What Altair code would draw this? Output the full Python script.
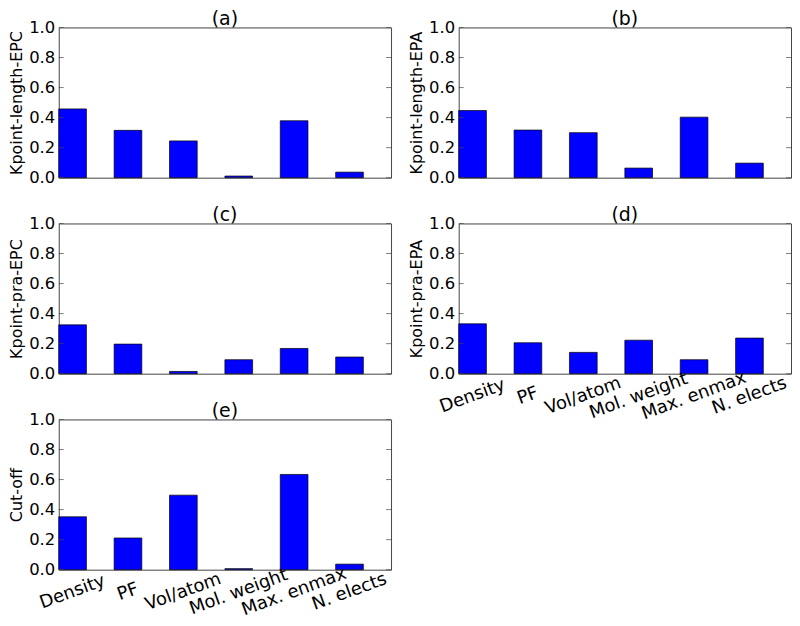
import altair as alt
import pandas as pd

categories = ["Density", "PF", "Vol/atom", "Mol. weight", "Max. enmax", "N. elects"]
vals_a = [0.458, 0.315, 0.245, 0.011, 0.379, 0.037]
vals_b = [0.447, 0.317, 0.300, 0.064, 0.403, 0.097]
vals_c = [0.325, 0.197, 0.015, 0.093, 0.168, 0.111]
vals_d = [0.332, 0.206, 0.142, 0.223, 0.093, 0.237]
vals_e = [0.352, 0.211, 0.496, 0.007, 0.634, 0.037]
panel_titles = ["(a)", "(b)", "(c)", "(d)", "(e)"]
y_titles = ["Kpoint-length-EPC", "Kpoint-length-EPA", "Kpoint-pra-EPC", "Kpoint-pra-EPA", "Cut-off"]
y_ticks = [0.0, 0.2, 0.4, 0.6, 0.8, 1.0]
show_x_labels = [False, False, False, True, True]

W, H = 334, 151
FONT = "DejaVu Sans"
FRAME = "#444444"


def panel(title, ytitle, vals, show_x):
    df = pd.DataFrame({"feature": categories, "value": vals})
    tdf = pd.DataFrame({"value": y_ticks})
    xaxis = alt.Axis(
        labels=show_x, ticks=False, tickSize=0, domain=False, title=None,
        labelAngle=-20, labelAlign="center", labelBaseline="middle",
        labelPadding=22, labelFontSize=18, labelColor="black",
        labelFont=FONT, bandPosition=0, grid=False,
    )
    x = alt.X("feature:N", sort=categories,
              scale=alt.Scale(paddingInner=0.5, paddingOuter=0.25, align=0),
              axis=xaxis)
    yaxis = alt.Axis(values=y_ticks, format=".1f", ticks=False, tickSize=0,
                     domain=False, grid=False, labelPadding=4,
                     labelFontSize=16.5, labelColor="black", labelFont=FONT,
                     title=ytitle, titlePadding=4, titleFontSize=16,
                     titleFont=FONT, titleFontWeight="normal",
                     titleColor="black")
    y = alt.Y("value:Q", scale=alt.Scale(domain=[0, 1], nice=False), axis=yaxis)
    bars = alt.Chart(df).mark_bar(fill="#0000ff", stroke="black",
                                  strokeWidth=0.7).encode(x=x, y=y)
    tl = alt.Chart(tdf).mark_tick(orient="horizontal", size=5, thickness=1,
                                  color=FRAME).encode(y=y, x=alt.value(2.5))
    tr = alt.Chart(tdf).mark_tick(orient="horizontal", size=5, thickness=1,
                                  color=FRAME).encode(y=y, x=alt.value(W - 2.5))
    return alt.layer(bars, tl, tr).properties(
        width=W, height=H,
        title=alt.TitleParams(title, fontSize=19, font=FONT, frame="group",
                              fontWeight="normal", color="black", offset=-10),
    )


vals_all = [vals_a, vals_b, vals_c, vals_d, vals_e]
panels = [panel(t, yt, v, s) for t, yt, v, s in
          zip(panel_titles, y_titles, vals_all, show_x_labels)]

chart = alt.concat(*panels, columns=2, spacing={"row": 46, "column": 68},
                   bounds="flush").properties(
    padding=0, background="white"
).configure_view(stroke=FRAME, strokeWidth=1)

chart.save("out.html", embed_options={"renderer": "svg", "actions": False})
